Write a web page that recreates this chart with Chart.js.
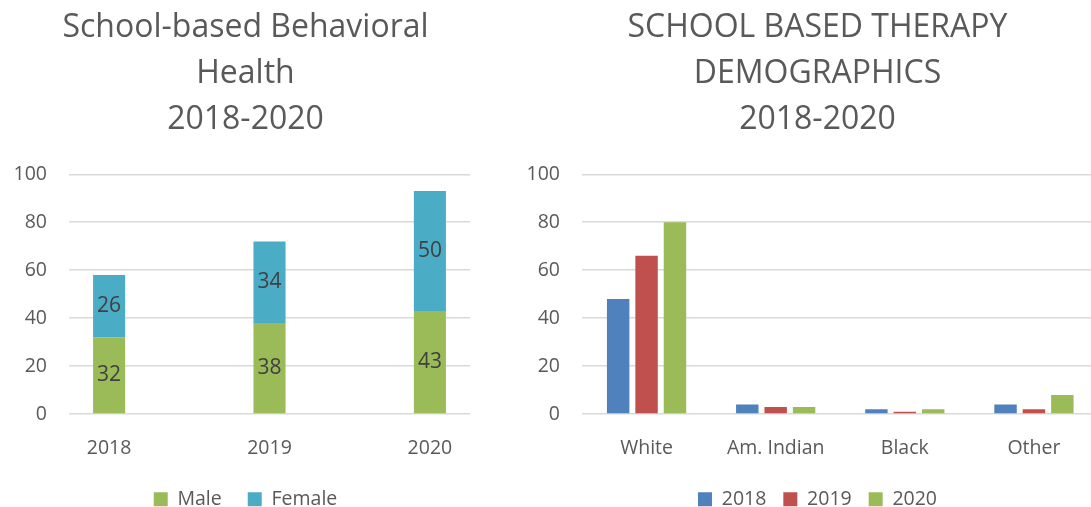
<!DOCTYPE html>
<html>
<head>
<meta charset="utf-8">
<script src="https://cdn.jsdelivr.net/npm/chart.js@4"></script>
<style>
  html, body { margin: 0; padding: 0; background: #fff; overflow: hidden; width: 1091px; height: 507px; }
  #left { position: absolute; left: 0; top: 0; }
  #right { position: absolute; left: 500px; top: 0; }
</style>
</head>
<body>
<canvas id="left" width="479" height="507"></canvas>
<canvas id="right" width="611" height="507"></canvas>
<script>
// left chart data
const years = ['2018', '2019', '2020'];
const maleCounts = [32, 38, 43];
const femaleCounts = [26, 34, 50];

// right chart data
const groups = ['White', 'Am. Indian', 'Black', 'Other'];
const demo2018 = [48, 4, 2, 4];
const demo2019 = [66, 3, 1, 2];
const demo2020 = [80, 3, 2, 8];

const yMax = 100;
const yStep = 20;

const FONT = '"Open Sans", Lato, sans-serif';
const GREY = '#595959';

// writes the value in the middle of every bar segment
const segmentLabels = {
    id: 'segmentLabels',
    afterDatasetsDraw(chart) {
        const ctx = chart.ctx;
        ctx.save();
        ctx.font = '21px ' + FONT;
        ctx.fillStyle = '#404040';
        ctx.textAlign = 'center';
        ctx.textBaseline = 'middle';
        chart.data.datasets.forEach((ds, i) => {
            chart.getDatasetMeta(i).data.forEach((bar, j) => {
                ctx.fillText(ds.data[j].y, bar.x, (bar.y + bar.base) / 2);
            });
        });
        ctx.restore();
    }
};

function yAxis(width) {
    return {
        min: 0,
        max: yMax,
        afterFit: (axis) => { axis.width = width; },
        ticks: { stepSize: yStep, padding: 22, color: GREY, font: { family: FONT, size: 19.5 } },
        grid: { color: '#D9D9D9', lineWidth: 1.5, drawTicks: false },
        border: { display: false }
    };
}

// empty axis on the right, only there to keep the plot off the title's right edge
function spacerAxis(width) {
    return {
        type: 'linear',
        position: 'right',
        display: true,
        afterFit: (axis) => { axis.width = width; },
        ticks: { display: false },
        grid: { display: false },
        border: { display: false }
    };
}

function titleOpts(lines) {
    return {
        display: true,
        text: lines,
        color: GREY,
        font: { family: FONT, size: 32, weight: 'normal', lineHeight: 1.43 },
        padding: { top: 5, bottom: 32 }
    };
}

// gap is the space between legend items; the empty legend title with a
// negative padding takes the extra gap back out of the legend's height
function legendOpts(gap) {
    return {
        position: 'bottom',
        title: { display: true, text: '', font: { size: 0 }, padding: { top: 14 - gap, bottom: 0 } },
        labels: {
            boxWidth: 14,
            boxHeight: 14,
            padding: gap,
            color: GREY,
            font: { family: FONT, size: 19.5 }
        }
    };
}

const xTicks = { padding: 15, color: GREY, font: { family: FONT, size: 19.5 } };

new Chart(document.getElementById('left'), {
    type: 'bar',
    data: {
        datasets: [
            {
                label: 'Male',
                data: maleCounts.map((v, i) => ({ x: i + 1, y: v })),
                backgroundColor: '#9BBB59'
            },
            {
                label: 'Female',
                data: femaleCounts.map((v, i) => ({ x: i + 1, y: v })),
                backgroundColor: '#4BACC6'
            }
        ]
    },
    options: {
        responsive: false,
        animation: false,
        layout: { padding: { left: 12, right: 0, bottom: -12 } },
        categoryPercentage: 0.2,
        barPercentage: 1,
        plugins: {
            title: titleOpts(['School-based Behavioral', 'Health', '2018-2020']),
            legend: legendOpts(26),
            tooltip: { enabled: false }
        },
        scales: {
            x: {
                type: 'linear',
                stacked: true,
                offset: false,
                min: 0.75,
                max: years.length + 0.25,
                afterBuildTicks: (axis) => { axis.ticks = years.map((y, i) => ({ value: i + 1 })); },
                ticks: Object.assign({ callback: (v) => years[v - 1] }, xTicks),
                grid: { display: false, offset: false },
                border: { display: false }
            },
            y: Object.assign(yAxis(57), { stacked: true }),
            spacer: spacerAxis(9)
        }
    },
    plugins: [segmentLabels]
});

new Chart(document.getElementById('right'), {
    type: 'bar',
    data: {
        labels: groups,
        datasets: [
            { label: '2018', data: demo2018, backgroundColor: '#4F81BD' },
            { label: '2019', data: demo2019, backgroundColor: '#C0504D' },
            { label: '2020', data: demo2020, backgroundColor: '#9BBB59' }
        ]
    },
    options: {
        responsive: false,
        animation: false,
        layout: { padding: { left: 24, right: 0, bottom: -12 } },
        categoryPercentage: 0.66,
        barPercentage: 0.79,
        plugins: {
            title: titleOpts(['SCHOOL BASED THERAPY', 'DEMOGRAPHICS', '2018-2020']),
            legend: legendOpts(17),
            tooltip: { enabled: false }
        },
        scales: {
            x: {
                ticks: xTicks,
                grid: { display: false },
                border: { display: false }
            },
            y: yAxis(58),
            spacer: spacerAxis(12.5)
        }
    }
});
</script>
</body>
</html>
